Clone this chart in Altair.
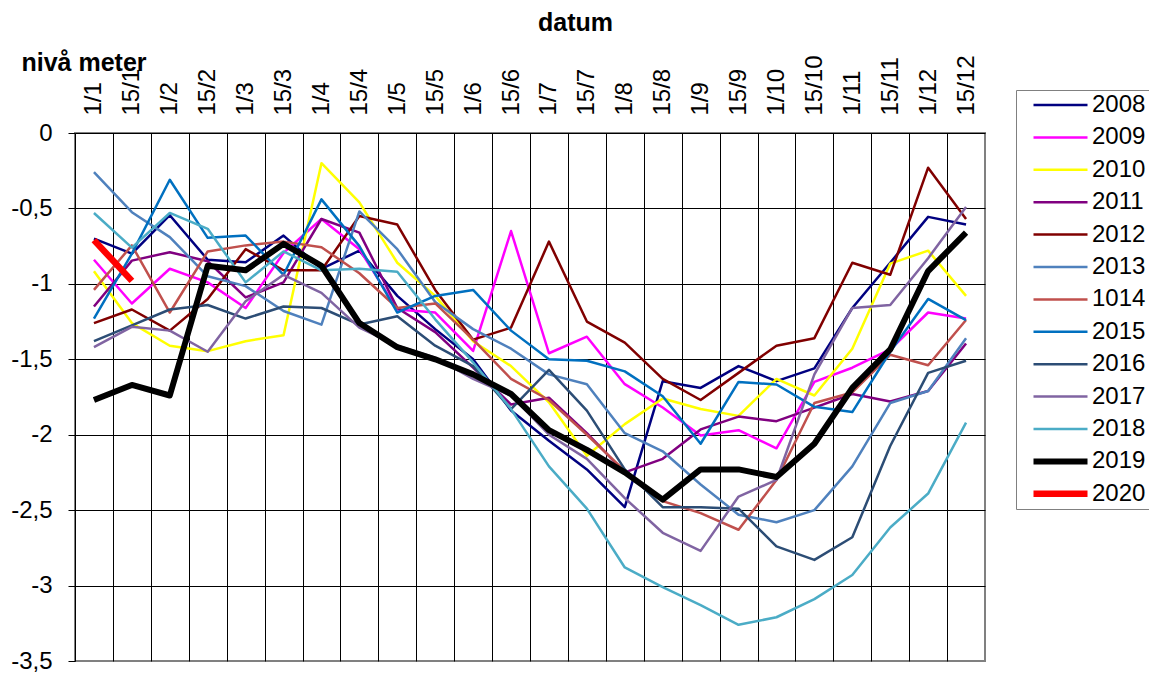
import json
import altair as alt
import pandas as pd

categories = ["1/1", "15/1", "1/2", "15/2", "1/3", "15/3", "1/4", "15/4", "1/5", "15/5",
              "1/6", "15/6", "1/7", "15/7", "1/8", "15/8", "1/9", "15/9", "1/10", "15/10",
              "1/11", "15/11", "1/12", "15/12"]

years = ["2008", "2009", "2010", "2011", "2012", "2013", "1014", "2015", "2016", "2017",
         "2018", "2019", "2020"]
colors = ["#000080", "#FF00FF", "#FFFF00", "#800080", "#800000", "#4F81BD", "#C0504D",
          "#0070C0", "#2C4D75", "#8064A2", "#4BACC6", "#000000", "#FF0000"]
widths = [2.5, 2.5, 2.5, 2.5, 2.5, 2.5, 2.5, 2.5, 2.5, 2.5, 2.5, 6, 6.5]

y2008 = [-0.70, -0.80, -0.545, -0.84, -0.857, -0.68, -0.90, -0.78, -1.08, -1.30, -1.50, -1.84,
         -2.04, -2.23, -2.48, -1.645, -1.69, -1.545, -1.645, -1.56, -1.16, -0.86, -0.556, -0.607]
y2009 = [-0.84, -1.13, -0.90, -0.99, -1.16, -0.795, -0.57, -0.77, -1.17, -1.19, -1.445, -0.65,
         -1.46, -1.35, -1.665, -1.82, -2.005, -1.97, -2.09, -1.65, -1.556, -1.435, -1.19, -1.23]
y2010 = [-0.916, -1.26, -1.41, -1.446, -1.38, -1.34, -0.20, -0.46, -0.86, -1.08, -1.38, -1.545,
         -1.785, -2.14, -1.93, -1.76, -1.83, -1.875, -1.63, -1.74, -1.43, -0.866, -0.78, -1.08]
y2011 = [-1.15, -0.846, -0.79, -0.85, -1.09, -0.99, -0.57, -0.66, -1.16, -1.32, -1.555, -1.80,
         -1.755, -1.99, -2.25, -2.16, -1.965, -1.88, -1.91, -1.82, -1.73, -1.78, -1.71, -1.395]
y2012 = [-1.26, -1.17, -1.31, -1.10, -0.77, -0.91, -0.91, -0.55, -0.607, -1.04, -1.37, -1.29,
         -0.72, -1.25, -1.39, -1.63, -1.77, -1.59, -1.41, -1.36, -0.86, -0.94, -0.23, -0.57]
y2013 = [-0.26, -0.525, -0.69, -0.95, -1.015, -1.18, -1.27, -0.52, -0.77, -1.12, -1.30, -1.43,
         -1.60, -1.665, -1.99, -2.11, -2.33, -2.53, -2.58, -2.50, -2.21, -1.79, -1.71, -1.36]
y1014 = [-1.04, -0.745, -1.19, -0.785, -0.745, -0.72, -0.757, -0.93, -1.16, -1.13, -1.37, -1.63,
         -1.77, -2.00, -2.24, -2.44, -2.52, -2.63, -2.30, -1.79, -1.72, -1.47, -1.54, -1.24]
y2015 = [-1.23, -0.80, -0.31, -0.695, -0.68, -0.94, -0.44, -0.75, -1.19, -1.08, -1.04, -1.31,
         -1.50, -1.51, -1.58, -1.745, -2.06, -1.65, -1.667, -1.815, -1.85, -1.45, -1.10, -1.24]
y2016 = [-1.38, -1.275, -1.17, -1.14, -1.23, -1.15, -1.16, -1.27, -1.215, -1.41, -1.545, -1.83,
         -1.57, -1.84, -2.23, -2.48, -2.48, -2.49, -2.74, -2.83, -2.68, -2.075, -1.59, -1.51]
y2017 = [-1.42, -1.285, -1.31, -1.45, -1.115, -0.94, -1.06, -1.29, -1.41, -1.49, -1.63, -1.74,
         -2.00, -2.16, -2.42, -2.65, -2.77, -2.41, -2.30, -1.60, -1.16, -1.14, -0.83, -0.49]
y2018 = [-0.53, -0.76, -0.53, -0.635, -0.99, -0.785, -0.91, -0.90, -0.92, -1.235, -1.52, -1.83,
         -2.21, -2.49, -2.88, -3.01, -3.13, -3.26, -3.21, -3.09, -2.93, -2.615, -2.39, -1.92]
y2019 = [-1.77, -1.67, -1.74, -0.88, -0.91, -0.735, -0.88, -1.26, -1.42, -1.50, -1.60, -1.73,
         -1.97, -2.10, -2.25, -2.43, -2.23, -2.23, -2.28, -2.06, -1.69, -1.435, -0.915, -0.66]
y2020 = [-0.71, -0.98]

series = {"2008": y2008, "2009": y2009, "2010": y2010, "2011": y2011, "2012": y2012,
          "2013": y2013, "1014": y1014, "2015": y2015, "2016": y2016, "2017": y2017,
          "2018": y2018, "2019": y2019, "2020": y2020}

y_ticks = [0, -0.5, -1, -1.5, -2, -2.5, -3, -3.5]

rows = []
for yr in years:
    for i, v in enumerate(series[yr]):
        rows.append({"year": yr, "idx": i, "value": v})
df = pd.DataFrame(rows)

FONT = "Liberation Sans"

x_vals = [k * 0.5 - 0.5 for k in range(2 * len(categories) + 1)]
x_label_expr = "(datum.value % 1 === 0) ? " + json.dumps(categories) + "[datum.value] : ''"
y_label_expr = "(datum.value < 0 ? '-' : '') + replace(toString(abs(datum.value)), '.', ',')"

legend = alt.Legend(
    title=None, orient="none", legendX=941, legendY=-43,
    symbolType="stroke", symbolSize=2916, symbolOffset=11, clipHeight=24,
    labelFontSize=24, labelFont=FONT, labelColor="#000", labelOffset=1,
    strokeColor="#808080", padding=3, rowPadding=8.4, labelLimit=200,
)

chart = alt.Chart(df).mark_line(strokeJoin="round", clip=False).encode(
    x=alt.X("idx:Q",
            scale=alt.Scale(domain=[-0.5, len(categories) - 0.5], nice=False, zero=False),
            axis=alt.Axis(orient="top", values=x_vals, labelExpr=x_label_expr,
                          labelAngle=-90, labelFontSize=24, labelFont=FONT, labelColor="#000",
                          labelPadding=18, labelOverlap=False, labelFlush=False,
                          ticks=False, domain=False, grid=True, gridColor="#000", gridWidth=1,
                          gridOpacity={"condition": {"test": "datum.value % 1 !== 0 && datum.value < 23", "value": 1}, "value": 0},
                          title="datum", titleFont=FONT, titleFontSize=25, titleFontWeight="bold",
                          titleColor="#000", titleAngle=0, titleX=500, titleY=-103,
                          titleAlign="center", titleBaseline="alphabetic")),
    y=alt.Y("value:Q",
            scale=alt.Scale(domain=[-3.5, 0], nice=False, zero=False),
            axis=alt.Axis(values=y_ticks, labelExpr=y_label_expr, labelFontSize=24,
                          labelFont=FONT, labelColor="#000", labelPadding=16,
                          ticks=True, tickSize=7, tickColor="#000", domain=False,
                          grid=True, gridColor="#000", gridWidth=1,
                          gridOpacity={"condition": {"test": "datum.value > -3.4", "value": 1}, "value": 0},
                          title="nivå meter", titleFont=FONT, titleFontSize=25,
                          titleFontWeight="bold", titleColor="#000", titleAngle=0,
                          titleX=-54, titleY=-63, titleAlign="left",
                          titleBaseline="alphabetic")),
    color=alt.Color("year:N", scale=alt.Scale(domain=years, range=colors), legend=legend),
    strokeWidth=alt.StrokeWidth("year:N",
                                scale=alt.Scale(type="ordinal", domain=years, range=widths),
                                legend=legend),
).properties(
    width=910, height=528,
    autosize=alt.AutoSizeParams(type="none"),
    padding={"left": 67, "top": 125, "right": 164, "bottom": 14},
).configure(font=FONT).configure_view(stroke="#808080", strokeWidth=2)

chart.save("out.html", embed_options={"renderer": "svg", "actions": False})
